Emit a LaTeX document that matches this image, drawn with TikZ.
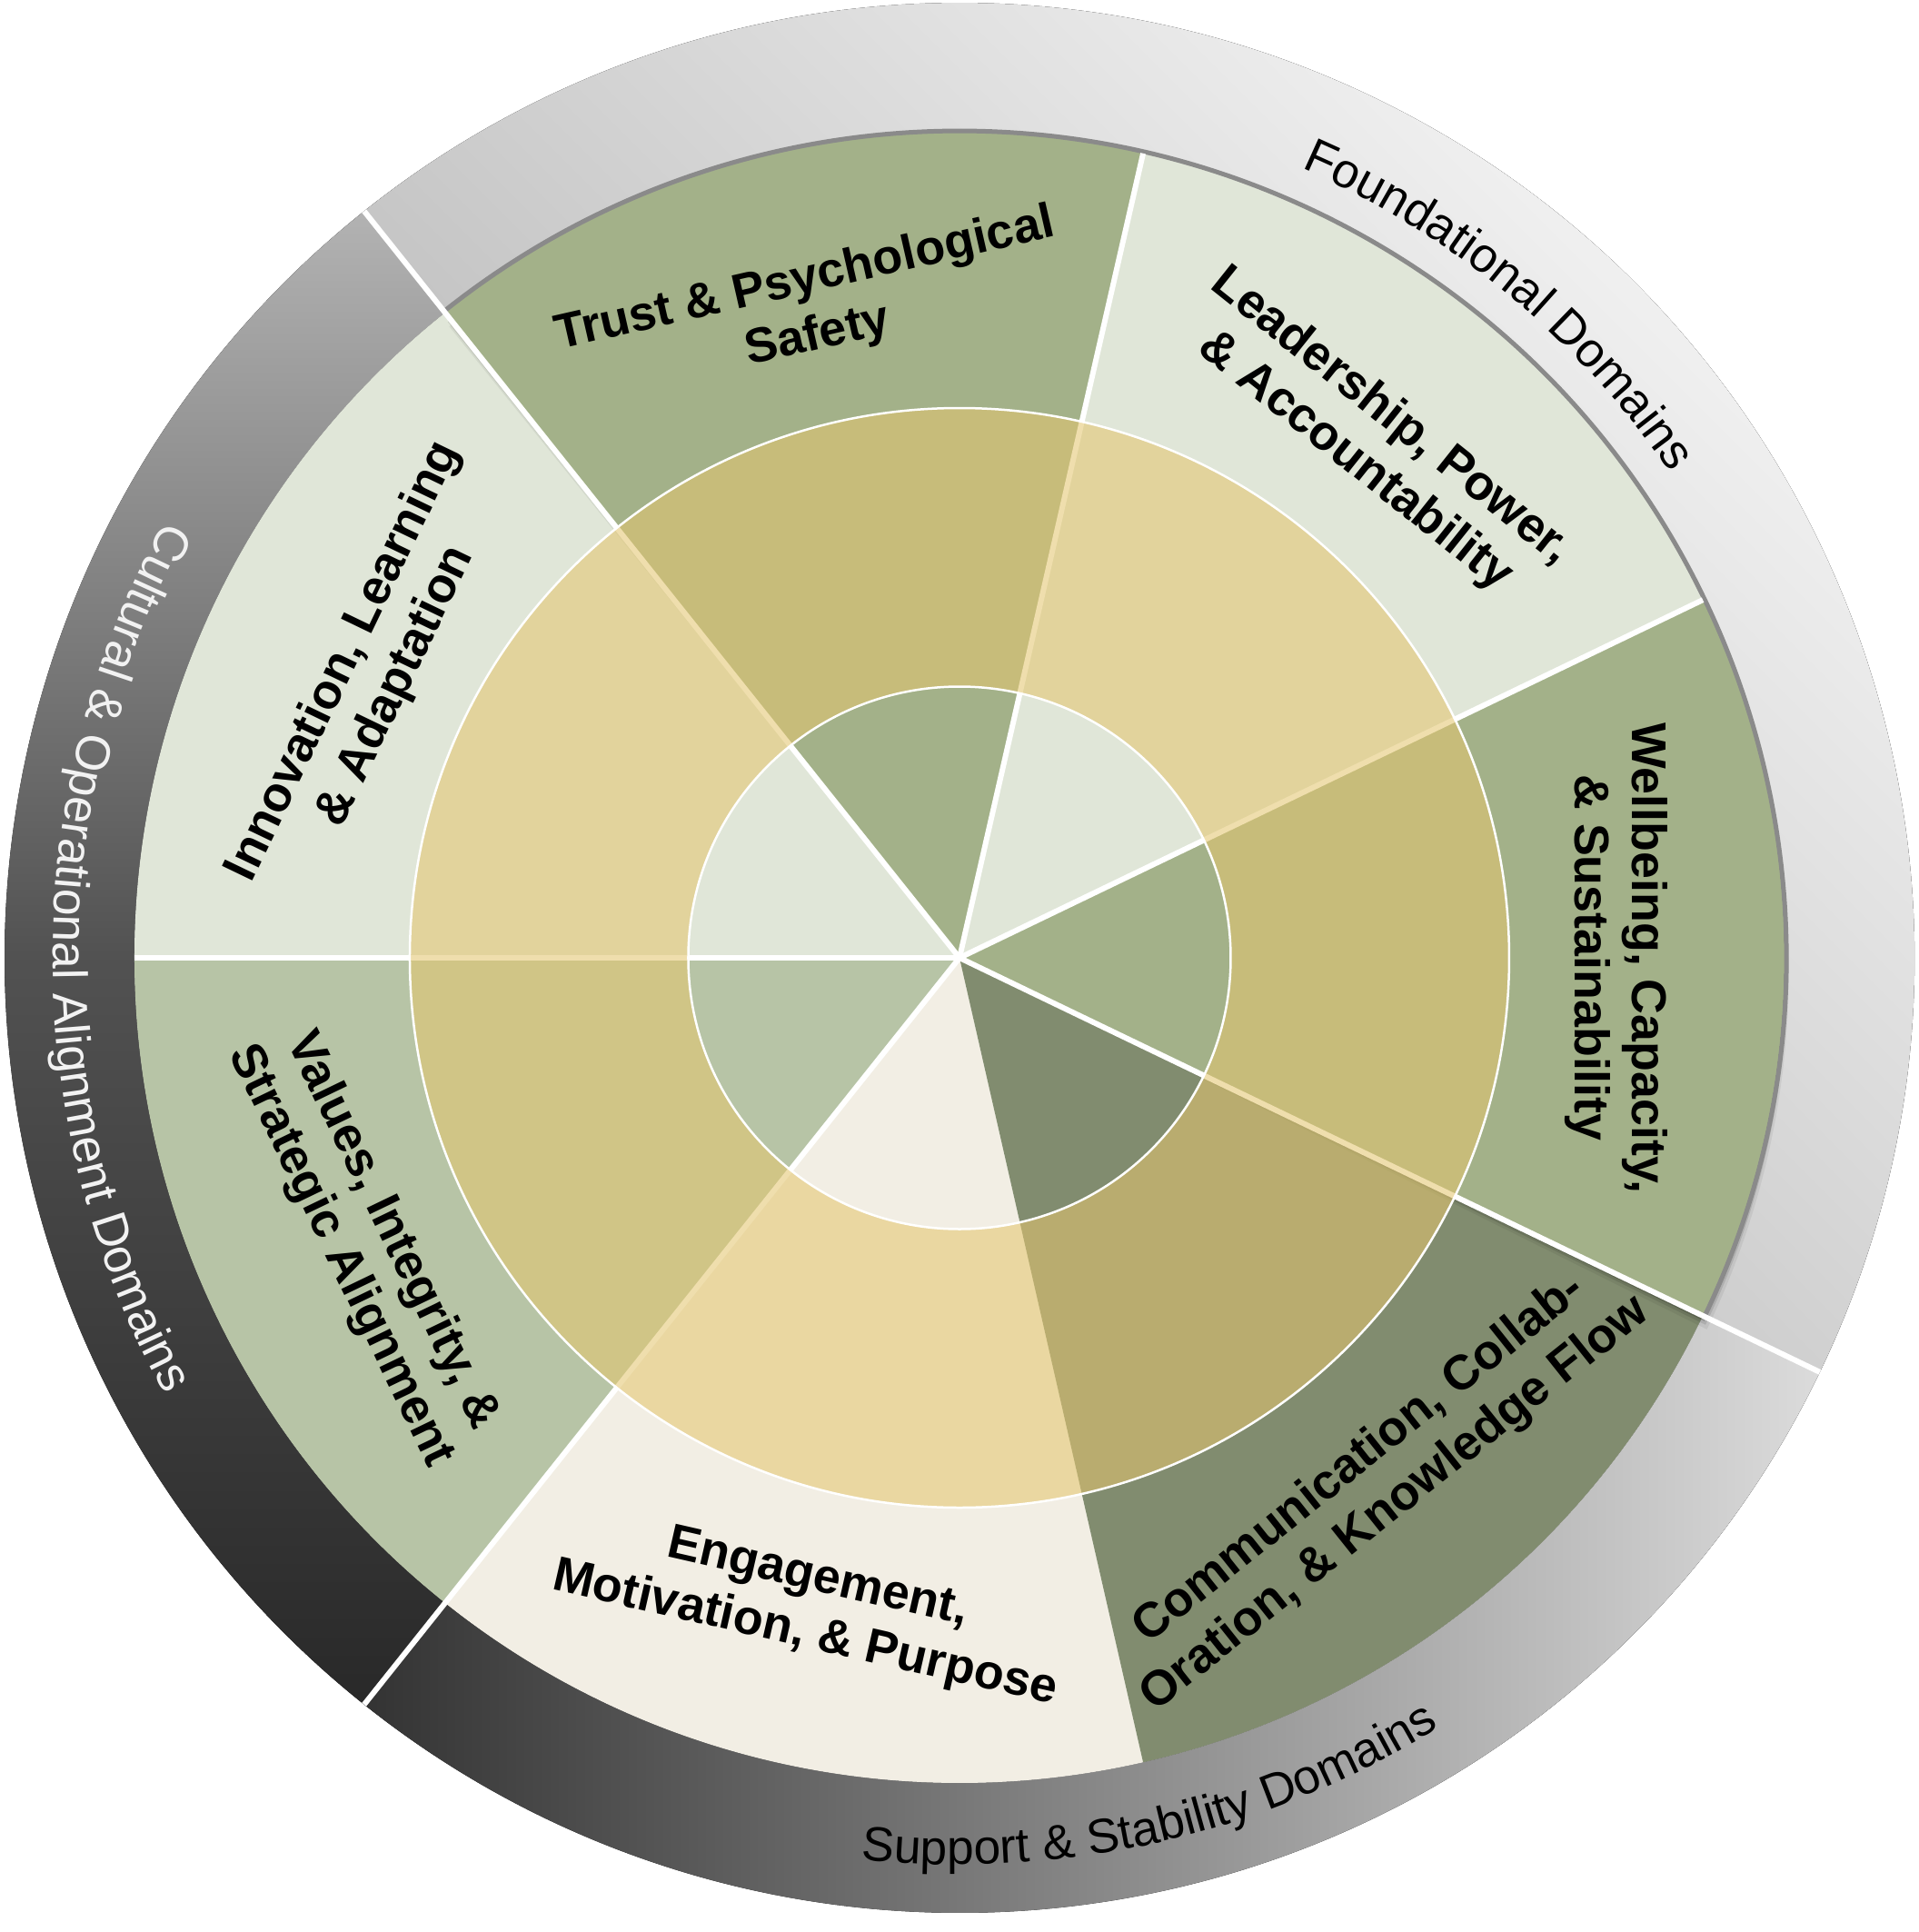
\documentclass[tikz,border=0pt]{standalone}
\usepackage{fontspec}
\setmainfont{Liberation Sans}
\usepackage{tikz}
\usetikzlibrary{calc, decorations.text}

\definecolor{lightsage}{HTML}{E0E6D8}
\definecolor{olivesage}{HTML}{A3B189}
\definecolor{midsage}{HTML}{B7C4A6}
\definecolor{darkolive}{HTML}{818C6F}
\definecolor{cream}{HTML}{F2EEE4}
\definecolor{gold}{HTML}{E4C66F}
\definecolor{rimgray}{HTML}{8A8A8A}

\def\rin{2.985}
\def\rmid{6.05}
\def\rsec{9.08}
\def\rring{10.51}
\def\domfont{\fontsize{15.2}{18}\selectfont}

\tikzset{
    seclabel/.style={font=\bfseries\fontsize{15.3}{18}\selectfont, align=center, inner sep=0pt},
    sepline/.style={white, line width=0.06cm},
    rimline/.style={white, line width=0.025cm}
}

\begin{document}
\begin{tikzpicture}
    \useasboundingbox (-10.56,-10.72) rectangle (10.56,10.54);
    \coordinate (c) at (0,0);

    % outer domain ring
    \fill[top color=black!2, bottom color=black!32, shading angle=-45]
        (-25.71:\rring) arc[start angle=-25.71, end angle=128.57, radius=\rring]
        -- (128.57:\rsec) arc[start angle=128.57, end angle=-25.71, radius=\rsec] -- cycle;
    \fill[left color=black!80, right color=black!14]
        (-128.57:\rring) arc[start angle=-128.57, end angle=-25.71, radius=\rring]
        -- (-25.71:\rsec) arc[start angle=-25.71, end angle=-128.57, radius=\rsec] -- cycle;
    \fill[top color=black!30, bottom color=black!84, middle color=black!68]
        (128.57:\rring) arc[start angle=128.57, end angle=231.43, radius=\rring]
        -- (231.43:\rsec) arc[start angle=231.43, end angle=128.57, radius=\rsec] -- cycle;

    % lower sectors
    \foreach \a/\col in {128.57/lightsage, 180/midsage, 231.43/cream, 282.86/darkolive}
    {
        \fill[\col] (c) -- (\a:\rsec) arc[start angle=\a, delta angle=51.43, radius=\rsec] -- cycle;
    }

    % shadow of the foundational sectors
    \foreach \s/\o in {0.03/0.22, 0.06/0.16, 0.10/0.1, 0.15/0.06}
    {
        \fill[black, opacity=\o, shift={(0.3*\s,-\s)}]
            (c) -- (-25.71:\rsec) arc[start angle=-25.71, delta angle=154.29, radius=\rsec] -- cycle;
    }

    % foundational sectors
    \foreach \a/\col in {334.29/olivesage, 25.71/lightsage, 77.14/olivesage}
    {
        \fill[\col] (c) -- (\a:\rsec) arc[start angle=\a, delta angle=51.43, radius=\rsec] -- cycle;
    }
    \draw[rimgray, line width=0.05cm] (-25.71:9.1) arc[start angle=-25.71, end angle=128.57, radius=9.1];

    % separators
    \foreach \a/\r in {180/\rsec, 128.57/\rring, 77.14/\rsec, 25.71/\rsec, -25.71/\rring, -128.57/\rring}
    {
        \draw[sepline] (c) -- (\a:\r);
    }

    % middle ring
    \fill[gold, opacity=0.57, even odd rule] (c) circle[radius=\rmid] (c) circle[radius=\rin];
    \draw[rimline] (c) circle[radius=\rin];
    \draw[rimline] (c) circle[radius=\rmid];

    % sector labels
    \node[seclabel, rotate=64.29] (innovation) at (154.29:7.2) {Innovation, Learning\\\& Adaptation};
    \node[seclabel, rotate=12.86] (trust) at (102.86:7.33) {Trust \& Psychological\\Safety};
    \node[seclabel, rotate=-38.57] (leadership) at (51.43:7.3) {Leadership, Power,\\\& Accountability};
    \node[seclabel, rotate=-90] (wellbeing) at (0:7.23) {Wellbeing, Capacity,\\\& Sustainability};
    \node[seclabel, rotate=38.57] (communication) at (-51.43:7.38) {Communication, Collab-\\Oration, \& Knowledge Flow};
    \node[seclabel, rotate=-12.86] (engagement) at (-102.86:7.33) {Engagement,\\Motivation, \& Purpose};
    \node[seclabel, rotate=-64.29] (values) at (-154.29:7.25) {Values, Integrity, \&\\Strategic Alignment};

    % domain labels
    \path[decorate, decoration={text along path, text align=center,
            text={|\domfont|Foundational Domains}}]
        (127.57:9.47) arc[start angle=127.57, end angle=-26.71, radius=9.47];
    \path[decorate, decoration={text along path, text align=center,
            text={|\domfont|Support {\&} Stability Domains}}]
        (-128.57:9.98) arc[start angle=-128.57, end angle=-25.71, radius=9.98];
    \path[decorate, decoration={text along path, text align=center, text color=black!5,
            text={|\domfont|Cultural {\&} Operational Alignment Domains}}]
        (128.57:9.98) arc[start angle=128.57, end angle=231.43, radius=9.98];
\end{tikzpicture}
\end{document}
